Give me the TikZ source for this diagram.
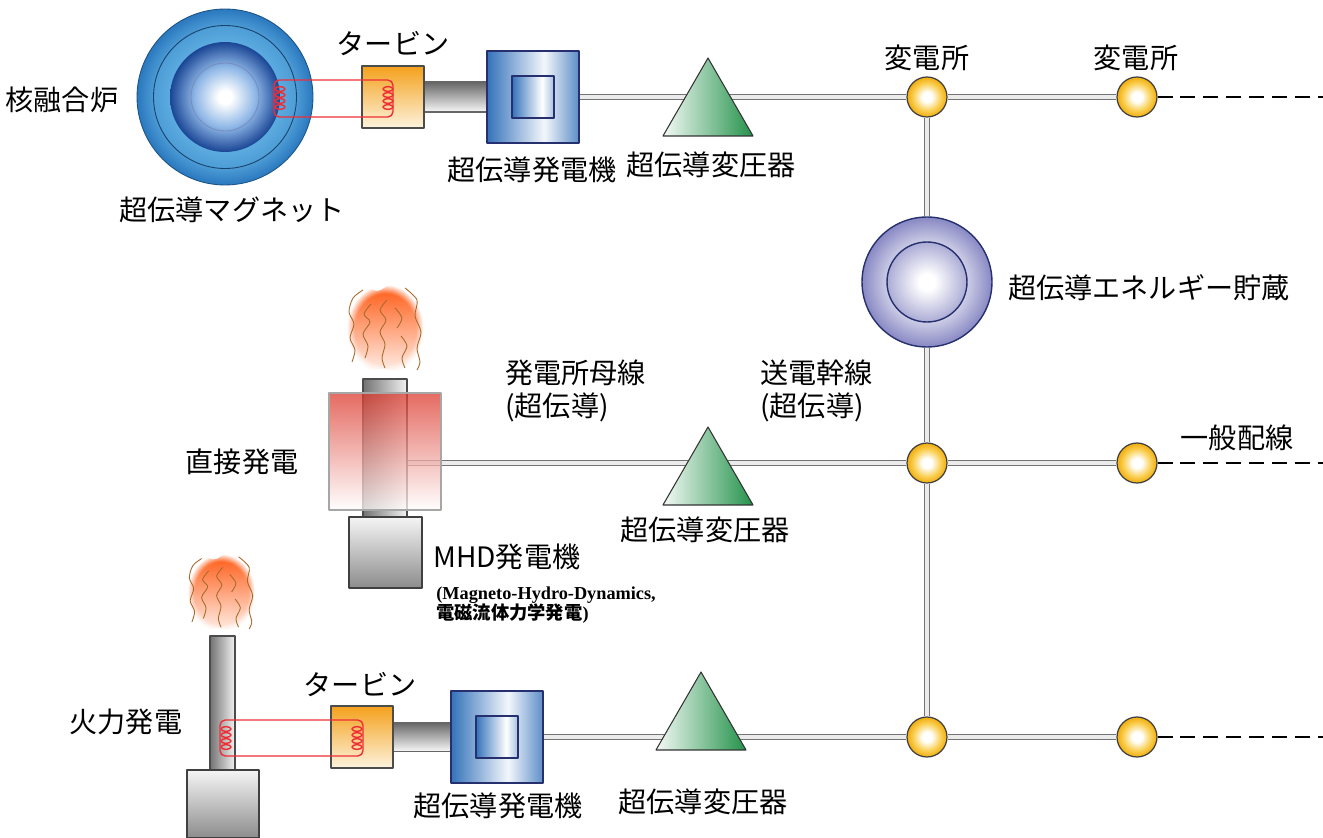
\documentclass[tikz,border=0pt]{standalone}
\usepackage{fontspec}
\newfontfamily\jpfont{Noto Sans CJK JP}
\newfontfamily\latinfont{Liberation Serif}
\usetikzlibrary{shapes.geometric,fadings}

\definecolor{rblue}{HTML}{2A78BE}
\definecolor{rbluelt}{HTML}{5AAADF}
\definecolor{cblue}{HTML}{1A4594}
\definecolor{cbluelt}{HTML}{8DB6E6}
\definecolor{gblue}{HTML}{3472BA}
\definecolor{navy}{HTML}{26306E}
\definecolor{torange}{HTML}{F4A11C}
\definecolor{tcream}{HTML}{FDF3DE}
\definecolor{tgreen}{HTML}{23924A}
\definecolor{syel}{HTML}{FAD055}
\definecolor{sorg}{HTML}{F1AC0C}
\definecolor{lav}{HTML}{8888C4}
\definecolor{mred}{HTML}{DC3A2E}
\definecolor{flamecol}{HTML}{FF5A14}
\definecolor{smokebrown}{HTML}{A86A2C}
\definecolor{wirered}{HTML}{EE2E36}

\pgfdeclarelayer{back}
\pgfsetlayers{back,main}

% radial shadings: the path edge sits at 25bp
\pgfdeclareradialshading{reactorring}{\pgfpoint{0bp}{0bp}}{color(0bp)=(rbluelt); color(16bp)=(rbluelt); color(20bp)=(rbluelt!75!rblue); color(25bp)=(rblue); color(50bp)=(rblue)}
\pgfdeclareradialshading{reactorcore}{\pgfpoint{0bp}{0bp}}{color(0bp)=(white); color(3bp)=(white); color(14bp)=(cbluelt); color(25bp)=(cblue); color(50bp)=(cblue)}
\pgfdeclareradialshading{subst}{\pgfpoint{0bp}{0bp}}{color(0bp)=(white); color(6bp)=(white); color(17bp)=(syel); color(25bp)=(sorg); color(50bp)=(sorg)}
\pgfdeclareradialshading{storering}{\pgfpoint{0bp}{0bp}}{color(0bp)=(white); color(15bp)=(lav!40!white); color(25bp)=(lav); color(50bp)=(lav)}
\pgfdeclareradialshading{storecore}{\pgfpoint{0bp}{0bp}}{color(0bp)=(white); color(5bp)=(white); color(25bp)=(lav!70!white); color(50bp)=(lav!70!white)}
% horizontal shadings: the path spans 25bp to 75bp
\pgfdeclarehorizontalshading{genbody}{100bp}{color(0bp)=(gblue); color(25bp)=(gblue); color(56bp)=(gblue!6!white); color(75bp)=(gblue!80!white); color(100bp)=(gblue!80!white)}
\pgfdeclarehorizontalshading{gencore}{100bp}{color(0bp)=(gblue); color(25bp)=(gblue); color(61bp)=(white); color(75bp)=(gblue!45!white); color(100bp)=(gblue!45!white)}

% exhaust plume over a stack
\tikzset{smoke/.pic={
  \shade[top color=flamecol,bottom color=flamecol!8!white,path fading=circle with fuzzy edge 20 percent]
    plot[smooth cycle,tension=0.7] coordinates {(-34,-30) (-22,-42) (-8,-37) (6,-43) (20,-39) (33,-28) (38,-8) (36,15) (31,38) (14,43) (-6,41) (-24,43) (-35,28) (-38,2)};
  \begin{scope}[draw=smokebrown,line width=0.5pt]
    \draw plot[smooth] coordinates {(-22,-38) (-32,-30) (-36,-16) (-31,-4) (-35,10) (-30,22) (-33,34)};
    \draw plot[smooth] coordinates {(-14,-24) (-21,-14) (-15,-6) (-22,6) (-17,18) (-20,30)};
    \draw plot[smooth] coordinates {(2,-28) (-5,-18) (1,-8) (-5,4) (0,16) (-3,30) (0,40)};
    \draw plot[smooth] coordinates {(10,-20) (17,-10) (12,0)};
    \draw plot[smooth] coordinates {(16,8) (22,18) (17,30) (20,40)};
    \draw plot[smooth] coordinates {(20,-40) (32,-28) (30,-12) (36,4) (32,20) (35,34) (32,42)};
  \end{scope}
}}

\begin{document}
\begin{tikzpicture}[x=0.02cm,y=-0.02cm,line join=round,
  lbl/.style={font={\jpfont\fontsize{16}{19}\selectfont},inner sep=0pt},
  bus/.style={draw=black!55,double=black!8,line width=0.95pt,double distance=2pt},
  feeder/.style={line width=1.6pt,dash pattern=on 8.5pt off 4.5pt},
  shaft/.style={top color=black!60,bottom color=black!3,draw=black!60,line width=0.6pt},
  wire/.style={draw=wirered,line width=0.8pt},
  tur/.style={rectangle,inner sep=0pt,minimum size=1.24cm,top color=torange,bottom color=tcream,draw=black!70,line width=0.7pt},
  gen/.style={rectangle,inner sep=0pt,minimum size=1.84cm,shading=genbody,draw=navy,line width=0.7pt},
  genin/.style={rectangle,inner sep=0pt,minimum size=0.84cm,shading=gencore,draw=navy,line width=0.7pt},
  xfmr/.style={regular polygon,regular polygon sides=3,minimum size=2.08cm,inner sep=0pt,left color=tgreen!5!white,right color=tgreen,draw=black!80,line width=0.6pt},
  station/.style={circle,inner sep=0pt,minimum size=0.8cm,shading=subst,draw=black!75,line width=0.7pt},
  col/.style={rectangle,inner sep=0pt,left color=black!55,right color=black!5,draw=black!70,line width=0.6pt},
  housing/.style={rectangle,inner sep=0pt,top color=black!4,bottom color=black!45,draw=black!75,line width=0.7pt}]
\useasboundingbox (0,0) rectangle (1323,838);

% fusion reactor line
\node[circle,inner sep=0pt,minimum size=3.52cm,shading=reactorring,draw=rblue!70!black,line width=0.5pt] (reactor) at (225,97) {};
\draw[rblue!55!black,line width=0.5pt] (reactor) circle (71.5);
\node[circle,inner sep=0pt,minimum size=2.2cm,shading=reactorcore] (core) at (reactor) {};
\draw[cblue!60,line width=0.5pt] (core) circle (34);
\node[tur] (tur1) at (393,97) {};
\node[gen] (gen1) at (533,97) {};
\node[genin] (gen1c) at (gen1) {};
\node[xfmr] (tr1) at (708,110) {};
\coordinate (coilA) at (274,98);
\coordinate (coilB) at (393,98);
\draw[wire,rounded corners=3pt] ([yshift=0.36cm]coilA) rectangle ([yshift=-0.38cm]coilB);
\foreach \k in {0,...,3}{
  \draw[wire] (280,{89+6*\k}) ellipse (5 and 2.4);
  \draw[wire] (388,{89+6*\k}) ellipse (5 and 2.4);
}

% substations and storage
\node[station] (st1) at (927,97) {};
\node[station] (st2) at (1137,97) {};
\node[circle,inner sep=0pt,minimum size=2.6cm,shading=storering,draw=navy,line width=0.8pt] (store) at (927,282) {};
\node[circle,inner sep=0pt,minimum size=1.6cm,shading=storecore,draw=navy,line width=0.8pt] (storec) at (store) {};
\node[station] (st3) at (927,463) {};
\node[station] (st4) at (1137,463) {};
\node[station] (st5) at (927,737) {};
\node[station] (st6) at (1137,737) {};
\coordinate (end1) at (1323,97);
\coordinate (end2) at (1323,463);
\coordinate (end3) at (1323,737);

% MHD direct generation
\node[col,minimum width=0.88cm,minimum height=2.78cm] (mhdcol) at (385,448.5) {};
\coordinate (tap) at (407,463);
\node[rectangle,inner sep=0pt,minimum width=2.24cm,minimum height=2.34cm,top color=mred,bottom color=white,fill opacity=0.75,draw=black!35,line width=0.6pt] (mhdduct) at (385,451.5) {};
\node[housing,minimum width=1.46cm,minimum height=1.42cm] (mhdgen) at (385.5,552.5) {};
\pic at (385,328) {smoke};
\node[xfmr] (tr2) at (708,479) {};

% thermal line
\node[col,minimum width=0.5cm,minimum height=2.68cm] (chimney) at (222.5,703) {};
\node[housing,minimum width=1.44cm,minimum height=1.36cm] (boiler) at (223,804) {};
\pic[scale=0.88] at (221,592) {smoke};
\node[tur] (tur2) at (362,737) {};
\node[gen] (gen2) at (497,737) {};
\node[genin] (gen2c) at (gen2) {};
\node[xfmr] (tr3) at (701,724) {};
\coordinate (coilC) at (220,738);
\coordinate (coilD) at (363,738);
\draw[wire,rounded corners=3pt] ([yshift=0.36cm]coilC) rectangle ([yshift=-0.36cm]coilD);
\foreach \k in {0,...,3}{
  \draw[wire] (226,{729+6*\k}) ellipse (5 and 2.4);
  \draw[wire] (357,{729+6*\k}) ellipse (5 and 2.4);
}

% buses and shafts
\begin{pgfonlayer}{back}
  \draw[bus] (gen1) -- (st1) -- (st2);
  \draw[bus] (st1) -- (store) -- (st3) -- (st5);
  \draw[bus] (tap) -- (st3) -- (st4);
  \draw[bus] (gen2) -- (st5) -- (st6);
  \shade[shaft] ([yshift=0.3cm]tur1.east) rectangle ([yshift=-0.3cm]gen1.west);
  \shade[shaft] ([yshift=0.29cm]tur2.east) rectangle ([yshift=-0.29cm]gen2.west);
\end{pgfonlayer}
\draw[feeder] (st2) -- (end1);
\draw[feeder] (st4) -- (end2);
\draw[feeder] (st6) -- (end3);

% labels
\node[lbl] (t-reactor) at (62,100) {核融合炉};
\node[lbl] (t-magnet) at (232,210) {超伝導マグネット};
\node[lbl] (t-tur1) at (393,44) {タービン};
\node[lbl] (t-gen1) at (532,170) {超伝導発電機};
\node[lbl] (t-tr1) at (711,165) {超伝導変圧器};
\node[lbl] (t-st1) at (927,58) {変電所};
\node[lbl] (t-st2) at (1136,58) {変電所};
\node[lbl,anchor=west] (t-store) at (1008,288) {超伝導エネルギー貯蔵};
\node[lbl,anchor=west,align=left] (t-plantbus) at (505,391) {発電所母線\\(超伝導)};
\node[lbl,anchor=west,align=left] (t-trunk) at (760,391) {送電幹線\\(超伝導)};
\node[lbl] (t-dist) at (1237,438) {一般配線};
\node[lbl] (t-direct) at (242,462) {直接発電};
\node[lbl] (t-tr2) at (705,530) {超伝導変圧器};
\node[lbl,anchor=west] (t-mhd) at (433,557) {MHD発電機};
\node[anchor=west,inner sep=0pt,align=left,font={\fontsize{10.4}{11.4}\selectfont}] (t-mhdnote) at (436,605)
  {{\latinfont\bfseries (Magneto-Hydro-Dynamics,}\\{\jpfont\bfseries 電磁流体力学発電}{\latinfont\bfseries )}};
\node[lbl] (t-tur2) at (360,685) {タービン};
\node[lbl] (t-fire) at (126,722) {火力発電};
\node[lbl] (t-gen2) at (498,806) {超伝導発電機};
\node[lbl] (t-tr3) at (703,802) {超伝導変圧器};
\end{tikzpicture}
\end{document}
